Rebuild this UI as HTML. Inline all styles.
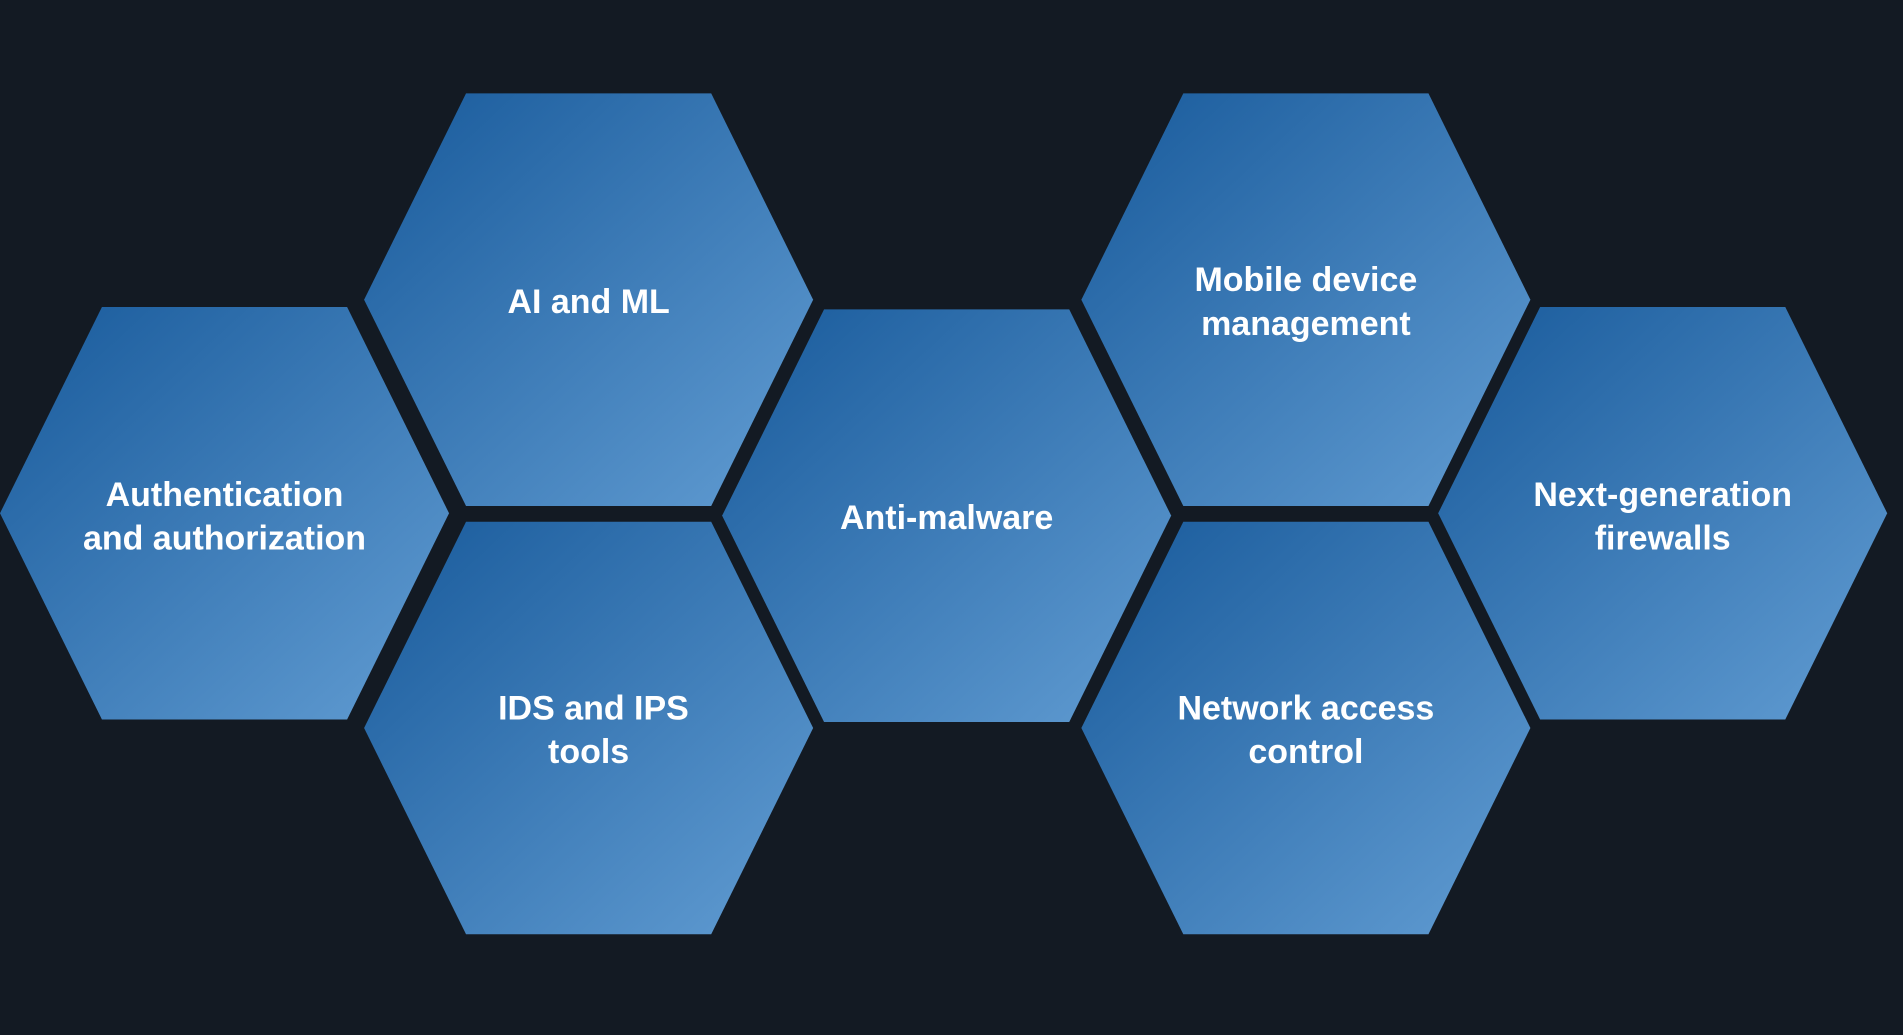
<!DOCTYPE html>
<html><head><meta charset="utf-8"><style>
html,body{margin:0;padding:0;background:#131a23;}
svg{display:block;}
text{font-family:"Liberation Sans",Arial,sans-serif;font-weight:bold;fill:#fff;font-size:28px;text-anchor:middle;}
</style></head><body>
<svg width="1903" height="1035" viewBox="0 0 1568 853" preserveAspectRatio="none">
<defs>
<linearGradient id="g" x1="0" y1="0" x2="1" y2="1">
<stop offset="0" stop-color="#185a9b"/>
<stop offset="1" stop-color="#629dd3"/>
</linearGradient>
<polygon id="h" points="-101,-170 101,-170 185,0 101,170 -101,170 -185,0"/>
</defs>
<g fill="url(#g)">
<g transform="translate(185,423)"><polygon points="-101,-170 101,-170 185,0 101,170 -101,170 -185,0" fill="url(#g)"/></g>
<g transform="translate(485,247)"><polygon points="-101,-170 101,-170 185,0 101,170 -101,170 -185,0" fill="url(#g)"/></g>
<g transform="translate(485,600)"><polygon points="-101,-170 101,-170 185,0 101,170 -101,170 -185,0" fill="url(#g)"/></g>
<g transform="translate(780,425)"><polygon points="-101,-170 101,-170 185,0 101,170 -101,170 -185,0" fill="url(#g)"/></g>
<g transform="translate(1076,247)"><polygon points="-101,-170 101,-170 185,0 101,170 -101,170 -185,0" fill="url(#g)"/></g>
<g transform="translate(1076,600)"><polygon points="-101,-170 101,-170 185,0 101,170 -101,170 -185,0" fill="url(#g)"/></g>
<g transform="translate(1370,423)"><polygon points="-101,-170 101,-170 185,0 101,170 -101,170 -185,0" fill="url(#g)"/></g>
</g>
<text x="185" y="417">Authentication</text>
<text x="185" y="453">and authorization</text>
<text x="485" y="258">AI and ML</text>
<text x="489" y="593">IDS and IPS</text>
<text x="485" y="629">tools</text>
<text x="780" y="436">Anti-malware</text>
<text x="1076" y="240">Mobile device</text>
<text x="1076" y="276">management</text>
<text x="1076" y="593">Network access</text>
<text x="1076" y="629">control</text>
<text x="1370" y="417">Next-generation</text>
<text x="1370" y="453">firewalls</text>
</svg>
</body></html>
